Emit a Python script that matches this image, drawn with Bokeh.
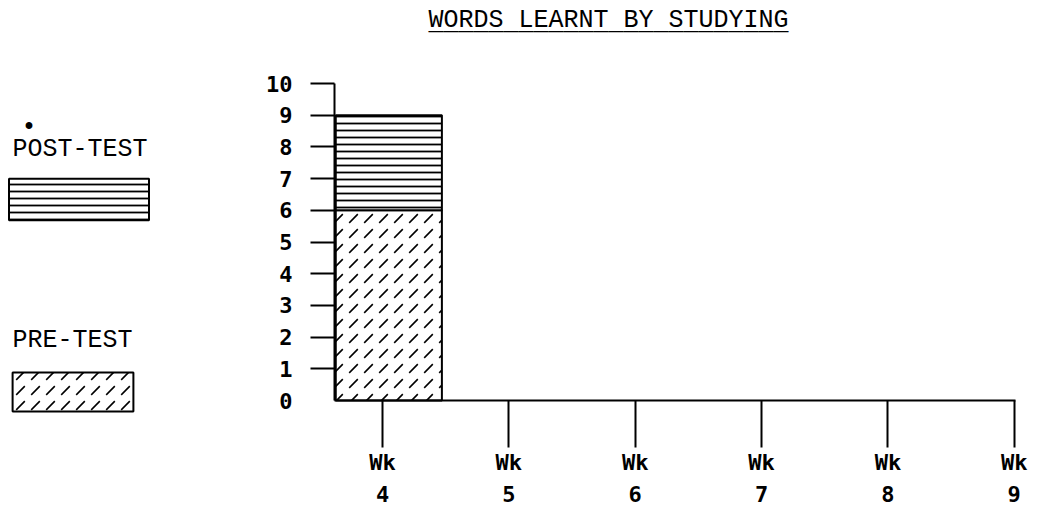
import numpy as np
from bokeh.plotting import figure
from bokeh.models import (ColumnDataSource, FixedTicker, Label, Legend, LegendItem,
                          LinearAxis, Range1d)
from bokeh.embed import file_html
from bokeh.resources import INLINE

# ---- data ----
title_text = "WORDS LEARNT BY STUDYING"
weeks = [4, 5, 6, 7, 8, 9]
week_labels = ["Wk\n4", "Wk\n5", "Wk\n6", "Wk\n7", "Wk\n8", "Wk\n9"]
pre_test = [6, None, None, None, None, None]
post_test = [9, None, None, None, None, None]
y_ticks = [0, 1, 2, 3, 4, 5, 6, 7, 8, 9, 10]
legend_labels = ["POST-TEST", "PRE-TEST"]

SERIF_MONO = "Liberation Mono"
SANS_MONO = "DejaVu Sans Mono"

W, H = 1039, 508
# axis geometry (pixels in the picture)
AX_X0, AX_X1, AX_Y0, AX_Y10 = 334, 1015, 400, 83
X_LO, X_HI = 3.62, 9.01          # x-axis extent in week units
PX_WK = (AX_X1 - AX_X0) / (X_HI - X_LO)
PX_Y = (AX_Y0 - AX_Y10) / 10.0

x_start = X_LO - AX_X0 / PX_WK
x_end = X_LO + (W - AX_X0) / PX_WK
y_end = AX_Y0 / PX_Y
y_start = -(H - AX_Y0) / PX_Y


def as_float(vals):
    return np.array([np.nan if v is None else v for v in vals], dtype=float)


src = ColumnDataSource(dict(
    xpos=[w + 0.05 for w in weeks],
    pre=as_float(pre_test),
    post=as_float(post_test),
))

p = figure(width=W, height=H, output_backend="svg", toolbar_location=None,
           title=None, x_range=Range1d(x_start, x_end), y_range=Range1d(y_start, y_end),
           x_axis_type=None, y_axis_type=None, min_border=0)
p.outline_line_color = None
p.background_fill_color = "white"
p.border_fill_color = "white"

pre_r = p.vbar(x="xpos", width=0.84, bottom=0, top="pre", source=src,
               fill_color="white", line_color="black", line_width=2,
               hatch_pattern="right_diagonal_dash", hatch_color="black",
               hatch_scale=15, hatch_weight=1.6)
post_r = p.vbar(x="xpos", width=0.84, bottom="pre", top="post", source=src,
                fill_color="white", line_color="black", line_width=2,
                hatch_pattern="horizontal_line", hatch_color="black",
                hatch_scale=7, hatch_weight=1.8)

# y axis
yaxis = LinearAxis(ticker=FixedTicker(ticks=y_ticks, minor_ticks=y_ticks[1:]),
                   fixed_location=X_LO, bounds=(0, 10),
                   major_tick_out=0, major_tick_in=0,
                   minor_tick_out=24, minor_tick_in=0,
                   minor_tick_line_width=2, minor_tick_line_color="black",
                   axis_line_width=2, axis_line_color="black",
                   major_label_standoff=18,
                   major_label_text_font=SANS_MONO,
                   major_label_text_font_size="22px",
                   major_label_text_font_style="bold",
                   major_label_text_color="black")
p.add_layout(yaxis, "left")

# x axis
xaxis = LinearAxis(ticker=FixedTicker(ticks=weeks, minor_ticks=[]),
                   fixed_location=0, bounds=(X_LO, X_HI),
                   major_label_overrides={w: lab for w, lab in zip(weeks, week_labels)},
                   major_tick_out=47, major_tick_in=0,
                   major_tick_line_width=2, major_tick_line_color="black",
                   minor_tick_out=0, minor_tick_in=0,
                   axis_line_width=2, axis_line_color="black",
                   major_label_standoff=2,
                   major_label_text_font=SANS_MONO,
                   major_label_text_font_size="22px",
                   major_label_text_font_style="bold",
                   major_label_text_line_height=1.3,
                   major_label_text_color="black")
p.add_layout(xaxis, "below")


# texts (screen units: from bottom-left of the frame = canvas)
def label(x, y, text):
    return Label(x=x, y=H - y, x_units="screen", y_units="screen", text=text,
                 text_font=SERIF_MONO, text_font_size="25px",
                 text_baseline="alphabetic", text_align="left", text_color="black")


# title with underline
p.add_layout(label(428, 20, title_text))
p.add_layout(label(428, 22, "_" * len(title_text)))

# legend texts
p.add_layout(label(21, 127, "\u2022"))
p.add_layout(label(12, 149, legend_labels[0]))
p.add_layout(label(12, 340, legend_labels[1]))

# legend swatches (glyph rect is inset by 10% of the glyph box)
common = dict(label_width=0, label_height=0, label_standoff=0, padding=0, margin=0,
              spacing=0, border_line_color=None, background_fill_alpha=0,
              label_text_font_size="1px")
post_leg = Legend(items=[LegendItem(label=" ", renderers=[post_r])],
                  location=(8 - 17.5, H - 225.25), glyph_width=175, glyph_height=52,
                  **common)
pre_leg = Legend(items=[LegendItem(label=" ", renderers=[pre_r])],
                 location=(12 - 15.1, H - 415.9), glyph_width=151, glyph_height=49,
                 **common)
p.add_layout(post_leg)
p.add_layout(pre_leg)

open("out.html", "w").write(file_html(p, INLINE))
